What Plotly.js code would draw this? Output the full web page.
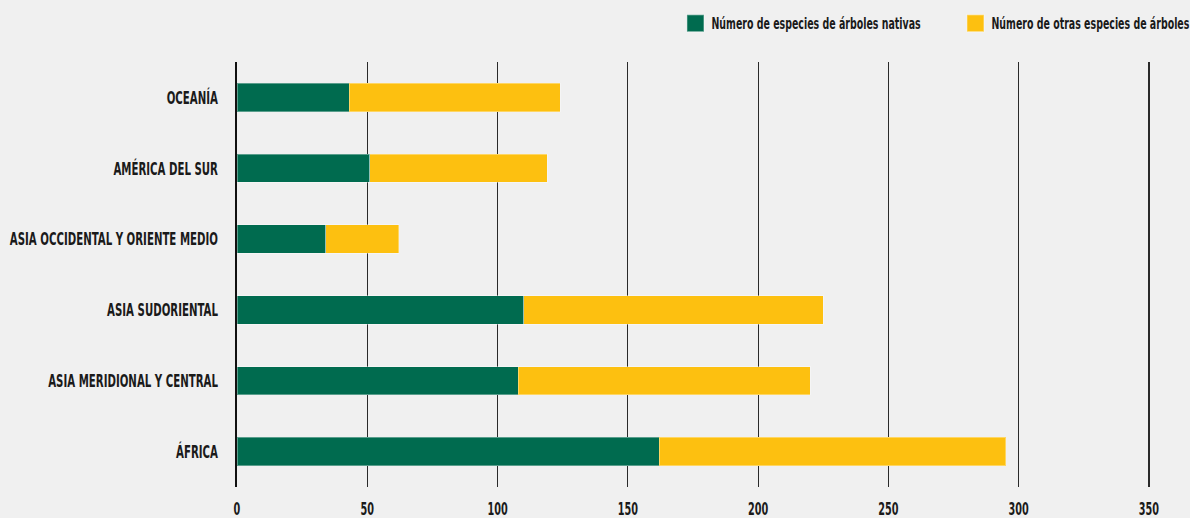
<!DOCTYPE html>
<html>
<head>
<meta charset="utf-8">
<script src="https://cdn.plot.ly/plotly-3.0.1.min.js"></script>
<style>
html,body{margin:0;padding:0;background:#f0f0f0;}
#chart{width:1190px;height:518px;}
</style>
</head>
<body>
<div id="chart"></div>
<script>
const regions = ["OCEANÍA", "AMÉRICA DEL SUR", "ASIA OCCIDENTAL Y ORIENTE MEDIO", "ASIA SUDORIENTAL", "ASIA MERIDIONAL Y CENTRAL", "ÁFRICA"];
const nativeSpecies = [43, 51, 34, 110, 108, 162];
const otherSpecies = [81, 68, 28, 115, 112, 133];
const seriesNames = ["Número de especies de árboles nativas", "Número de otras especies de árboles"];
const xTicks = [0, 50, 100, 150, 200, 250, 300, 350];

const FONT = "'DejaVu Sans Condensed', 'DejaVu Sans', sans-serif";

const traces = [
  {type: 'bar', orientation: 'h', y: regions, x: nativeSpecies, name: seriesNames[0],
   marker: {color: '#006b4f', line: {color: 'rgba(255,255,255,0.35)', width: 1}}, width: 0.4, hoverinfo: 'x+y'},
  {type: 'bar', orientation: 'h', y: regions, x: otherSpecies, name: seriesNames[1],
   marker: {color: '#fdc010', line: {color: 'rgba(255,255,255,0.35)', width: 1}}, width: 0.4, hoverinfo: 'x+y'}
];

const layout = {
  width: 1190, height: 518,
  paper_bgcolor: '#f0f0f0', plot_bgcolor: '#f0f0f0',
  barmode: 'stack',
  margin: {l: 237, r: 28, t: 62, b: 31, autoexpand: false},
  font: {family: FONT, color: '#1a1a1a', size: 14, weight: 'bold'},
  showlegend: true,
  legend: {orientation: 'h', x: 0.474, xanchor: 'left', y: 1.0906, yanchor: 'middle',
           font: {family: FONT, size: 15, color: '#1a1a1a', weight: 'bold'}, bgcolor: 'rgba(0,0,0,0)',
           traceorder: 'normal', entrywidth: 235, entrywidthmode: 'pixels'},
  xaxis: {range: [0, 355], tickvals: xTicks, ticktext: xTicks.map(String),
          showgrid: true, gridcolor: '#2a2a2a', gridwidth: 1.2, zeroline: false,
          showline: false, ticks: '', ticklabelstandoff: 9,
          tickfont: {family: FONT, size: 18, color: '#1a1a1a', weight: 'bold'}, fixedrange: true},
  yaxis: {type: 'category', autorange: 'reversed', showgrid: false, zeroline: false,
          showline: true, linecolor: '#111111', linewidth: 2.5, ticks: '', ticklabelstandoff: 13,
          tickfont: {family: FONT, size: 18, color: '#1a1a1a', weight: 'bold'}, fixedrange: true}
};

function condense(selector, factor, shiftX) {
  document.querySelectorAll(selector).forEach(function (t) {
    let x = parseFloat(t.getAttribute('x')) || 0;
    if (shiftX) { x += shiftX; t.setAttribute('x', x); }
    const y = parseFloat(t.getAttribute('y')) || 0;
    const tr = t.getAttribute('transform') || '';
    t.setAttribute('transform', tr + ' translate(' + x + ',' + y + ') scale(' + factor + ',1) translate(' + (-x) + ',' + (-y) + ')');
  });
}

Plotly.newPlot('chart', traces, layout, {displayModeBar: false, staticPlot: true}).then(function () {
  condense('.ytick text', 0.63);
  condense('.xtick text', 0.6);
  condense('.legend text.legendtext', 0.70, -4);
  document.querySelectorAll('.legend .legendpoints path').forEach(function (p) {
    const tr = p.getAttribute('transform') || '';
    p.setAttribute('transform', tr + ' scale(1.42)');
  });
  document.querySelectorAll('.legend [clip-path], .legend[clip-path]').forEach(function (e) {
    e.removeAttribute('clip-path');
  });
});
</script>
</body>
</html>
